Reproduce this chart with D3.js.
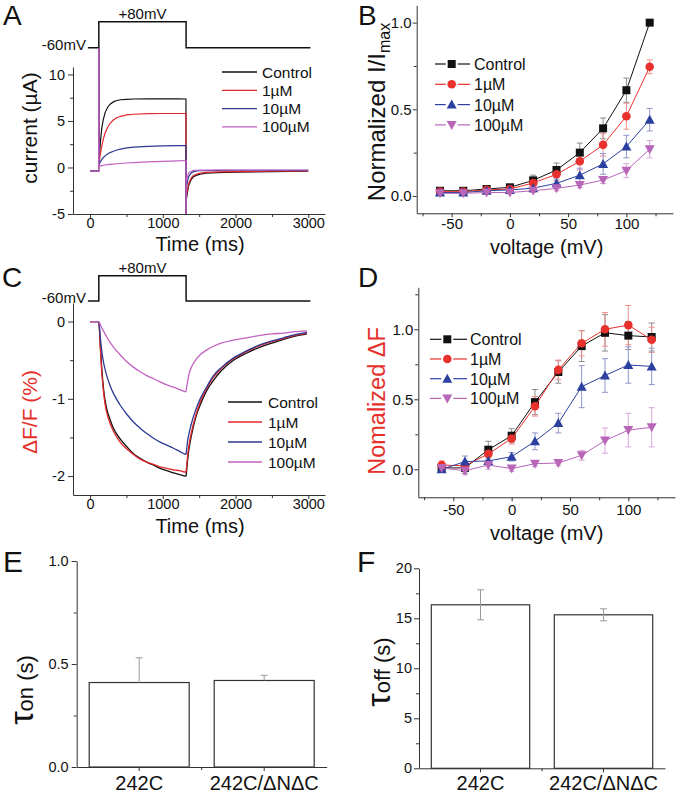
<!DOCTYPE html>
<html><head><meta charset="utf-8">
<script src="https://cdn.jsdelivr.net/npm/d3@7"></script>
<style>
body{margin:0;background:#fff;}
svg text{font-family:"Liberation Sans",Arial,Helvetica,sans-serif;}
</style></head><body>
<svg id="fig" width="677" height="794"></svg>
<script>
// ================= DATA =================
const seriesNames = ["Control", "1\u00B5M", "10\u00B5M", "100\u00B5M"];
const traceColors = ["#111111", "#e3262b", "#2c3a92", "#c261c2"];
const markerColors = ["#111111", "#e8312c", "#2c40a0", "#b866b8"];
const errColors = ["#8c8c8c", "#f0908c", "#8f97cc", "#d9a6d9"];
const labelRed = "#e5302b";

// Voltage protocol (ms, mV)
const protoT = [-30, 120, 120, 1320, 1320, 3030];
const protoV = [-60, -60, 80, 80, -60, -60];

// Panel A: gating currents (time ms, current µA)
const timeA = [0,118,120,122,140,160,180,206,240,275,320,367,420,505,600,800,1000,1200,1318,1320,1322,1353,1390,1422,1470,1514,1600,1750,2000,2500,3000];
const curControlA = [-0.4,-0.4,12.9,0.4,2.6,4.2,5.1,5.9,6.45,6.8,7.05,7.2,7.28,7.33,7.36,7.38,7.38,7.37,7.36,-5.6,-3.5,-2.0,-1.3,-1.0,-0.82,-0.72,-0.62,-0.55,-0.5,-0.45,-0.4];
const cur1uMA = [-0.4,-0.4,12.9,0.35,1.4,2.3,3.0,3.7,4.3,4.75,5.1,5.35,5.5,5.65,5.72,5.78,5.8,5.8,5.8,-5.6,-3.2,-1.8,-1.1,-0.85,-0.7,-0.6,-0.52,-0.47,-0.44,-0.4,-0.38];
const cur10uMA = [-0.4,-0.4,12.9,0.3,0.6,0.85,1.05,1.25,1.45,1.6,1.75,1.88,1.98,2.1,2.18,2.27,2.32,2.35,2.36,-5.6,-2.2,-1.0,-0.6,-0.45,-0.38,-0.35,-0.33,-0.32,-0.3,-0.3,-0.3];
const cur100uMA = [-0.4,-0.4,12.9,0.1,0.15,0.2,0.23,0.27,0.3,0.33,0.37,0.4,0.43,0.48,0.53,0.6,0.66,0.72,0.75,-5.6,-1.5,-0.6,-0.4,-0.32,-0.3,-0.28,-0.28,-0.27,-0.27,-0.27,-0.27];

// Panel C: fluorescence (time ms, dF/F %)
const timeC = [0,118,120,140,160,183,206,229,275,321,413,505,596,688,780,872,963,1055,1147,1230,1318,1322,1340,1360,1399,1450,1514,1600,1697,1800,1972,2150,2339,2500,2660,2820,2982];
const flControlC = [0,0,0,-0.3,-0.6,-0.85,-1.02,-1.13,-1.27,-1.38,-1.52,-1.62,-1.71,-1.77,-1.82,-1.86,-1.9,-1.93,-1.96,-1.98,-2.0,-1.98,-1.8,-1.65,-1.45,-1.25,-1.08,-0.9,-0.76,-0.64,-0.5,-0.41,-0.33,-0.28,-0.23,-0.19,-0.16];
const fl1uMC = [0,0,0,-0.33,-0.65,-0.9,-1.07,-1.18,-1.32,-1.42,-1.56,-1.65,-1.72,-1.78,-1.82,-1.85,-1.88,-1.9,-1.92,-1.93,-1.95,-1.92,-1.75,-1.6,-1.41,-1.22,-1.04,-0.87,-0.72,-0.61,-0.48,-0.39,-0.31,-0.26,-0.22,-0.18,-0.15];
const fl10uMC = [0,0,0,-0.2,-0.38,-0.52,-0.62,-0.7,-0.83,-0.93,-1.08,-1.2,-1.3,-1.38,-1.45,-1.51,-1.56,-1.6,-1.64,-1.68,-1.72,-1.7,-1.55,-1.45,-1.3,-1.15,-1.0,-0.85,-0.7,-0.6,-0.47,-0.38,-0.3,-0.25,-0.21,-0.17,-0.14];
const fl100uMC = [0,0,0,-0.04,-0.08,-0.12,-0.16,-0.2,-0.27,-0.33,-0.43,-0.52,-0.59,-0.65,-0.7,-0.74,-0.78,-0.82,-0.85,-0.88,-0.91,-0.88,-0.78,-0.68,-0.58,-0.5,-0.43,-0.37,-0.32,-0.28,-0.24,-0.21,-0.18,-0.16,-0.15,-0.13,-0.12];

// Panels B and D: voltage (mV)
const voltages = [-60,-40,-20,0,20,40,60,80,100,120];
// B: normalized I/Imax
const iControl = [0.03,0.03,0.04,0.05,0.09,0.15,0.25,0.39,0.61,1.0];
const iControlErr = [0.005,0.005,0.01,0.01,0.03,0.04,0.055,0.06,0.07,0];
const i1uM = [0.025,0.025,0.035,0.04,0.075,0.125,0.2,0.295,0.46,0.745];
const i1uMErr = [0.005,0.005,0.01,0.01,0.02,0.035,0.05,0.065,0.075,0.04];
const i10uM = [0.02,0.02,0.03,0.035,0.045,0.073,0.12,0.185,0.285,0.44];
const i10uMErr = [0.005,0.005,0.005,0.01,0.015,0.025,0.04,0.06,0.065,0.065];
const i100uM = [0.015,0.015,0.02,0.02,0.03,0.044,0.063,0.092,0.146,0.27];
const i100uMErr = [0.005,0.005,0.005,0.005,0.01,0.015,0.015,0.02,0.04,0.05];
// D: normalized dF
const fControl = [0.01,0.01,0.14,0.24,0.48,0.695,0.88,0.975,0.955,0.945];
const fControlErr = [0.02,0.04,0.06,0.05,0.09,0.08,0.11,0.13,0.1,0.1];
const f1uM = [0.03,0.025,0.11,0.22,0.45,0.71,0.9,1.0,1.03,0.925];
const f1uMErr = [0.03,0.03,0.05,0.04,0.07,0.07,0.09,0.12,0.14,0.09];
const f10uM = [0.0,0.055,0.06,0.09,0.2,0.33,0.59,0.67,0.745,0.735];
const f10uMErr = [0.02,0.04,0.03,0.03,0.06,0.07,0.15,0.12,0.13,0.13];
const f100uM = [0.01,-0.01,0.03,0.005,0.04,0.045,0.1,0.205,0.28,0.3];
const f100uMErr = [0.02,0.03,0.03,0.02,0.02,0.02,0.035,0.09,0.12,0.14];

// Panels E and F: bar charts
const constructs = ["242C", "242C/\u0394N\u0394C"];
const tauOn = [0.41, 0.42];
const tauOnErr = [0.12, 0.025];
const tauOff = [16.35, 15.35];
const tauOffErr = [1.5, 0.6];

// Tick values
const ticksTime = [0, 1000, 2000, 3000], minorTime = [500, 1500, 2500];
const ticksCurr = [-5, 0, 5, 10], minorCurr = [-2.5, 2.5, 7.5];
const ticksDF = [-2, -1, 0], minorDF = [-1.5, -0.5];
const ticksVolt = [-50, 0, 50, 100], minorVolt = [-75, -25, 25, 75, 125];
const ticksNorm = [0, 0.5, 1.0], minorNorm = [0.25, 0.75];
const ticksNormD = [0, 0.5, 1.0], minorNormD = [0.25, 0.75, 1.25];
const ticksOn = [0, 0.5, 1.0], minorOn = [0.25, 0.75];
const ticksOff = [0, 5, 10, 15, 20], minorOff = [2.5, 7.5, 12.5, 17.5];

// ================= DRAWING =================
const svg = d3.select("#fig");
const AX = "#333";
const fmtInt = d => String(d);
const fmt1 = d => d.toFixed(1);

function styleAxis(g, fs) {
  g.attr("font-family", null).attr("font-size", null);
  g.selectAll("path,line").attr("stroke", AX).attr("stroke-width", 1);
  g.selectAll("text").attr("fill", "#111").style("font-size", fs + "px");
}
function yAxis(x0, y, major, minor, fmt, fs, size, pad) {
  const g = svg.append("g").attr("transform", `translate(${x0},0)`);
  g.call(d3.axisLeft(y).tickValues(major).tickSize(size).tickSizeOuter(0).tickPadding(pad).tickFormat(fmt));
  const m = g.append("g").call(d3.axisLeft(y).tickValues(minor).tickSize(3).tickSizeOuter(0).tickFormat(""));
  m.select(".domain").remove();
  styleAxis(g, fs);
  return g;
}
function xAxis(y0, x, major, minor, fmt, fs, size, pad) {
  const g = svg.append("g").attr("transform", `translate(0,${y0})`);
  g.call(d3.axisBottom(x).tickValues(major).tickSize(size).tickSizeOuter(0).tickPadding(pad).tickFormat(fmt));
  const m = g.append("g").call(d3.axisBottom(x).tickValues(minor).tickSize(3).tickSizeOuter(0).tickFormat(""));
  m.select(".domain").remove();
  styleAxis(g, fs);
  return g;
}
function text(x, y, str, fs, opts = {}) {
  const t = svg.append("text").attr("x", x).attr("y", y).text(str)
    .style("font-size", fs + "px").attr("fill", opts.fill || "#111")
    .attr("text-anchor", opts.anchor || "start");
  return t;
}
function rotLabel(x, y, fs, fill) {
  return svg.append("text").attr("transform", `translate(${x},${y}) rotate(-90)`)
    .attr("text-anchor", "middle").style("font-size", fs + "px").attr("fill", fill || "#111");
}
function marker(g, shape, cx, cy, color) {
  if (shape === "square") {
    g.append("rect").attr("x", cx - 4).attr("y", cy - 4).attr("width", 8).attr("height", 8).attr("fill", color);
  } else if (shape === "circle") {
    g.append("circle").attr("cx", cx).attr("cy", cy).attr("r", 4.3).attr("fill", color);
  } else if (shape === "up") {
    g.append("path").attr("d", `M${cx},${cy - 5}L${cx + 5},${cy + 4}L${cx - 5},${cy + 4}Z`).attr("fill", color);
  } else {
    g.append("path").attr("d", `M${cx},${cy + 5}L${cx + 5},${cy - 4}L${cx - 5},${cy - 4}Z`).attr("fill", color);
  }
}
const shapes = ["square", "circle", "up", "down"];

// ---- protocol ----
function protocol(yMinus, yPlus, xScale) {
  const py = d3.scaleLinear([-60, 80], [yMinus, yPlus]);
  const pts = protoT.map((t, i) => [xScale(t), py(protoV[i])]);
  svg.append("path").attr("d", d3.line()(pts)).attr("fill", "none").attr("stroke", "#111").attr("stroke-width", 1.5);
  text(xScale((protoT[1] + protoT[3]) / 2), py(80) - 3, "+80mV", 15, { anchor: "middle" });
  text(xScale(protoT[0]) - 2, py(-60) + 2, "-60mV", 15, { anchor: "end" });
}

// ---- Panel A ----
{
  const x = d3.scaleLinear([-235, 3230], [73, 325]);
  const y = d3.scaleLinear([-5, 10.8], [214, 67]);
  protocol(47.7, 21.7, x);
  svg.append("clipPath").attr("id", "clipA").append("rect").attr("x", 73).attr("y", 47.7).attr("width", 252).attr("height", 166.3);
  const line = d3.line().x((d, i) => x(timeA[i])).y(d => y(d));
  const series = [curControlA, cur1uMA, cur10uMA, cur100uMA];
  const g = svg.append("g").attr("clip-path", "url(#clipA)");
  series.forEach((s, k) => g.append("path").attr("d", line(s)).attr("fill", "none")
    .attr("stroke", traceColors[k]).attr("stroke-width", 1.2));
  yAxis(73, y, ticksCurr, minorCurr, fmtInt, 14.5, 5, 3);
  xAxis(214, x, ticksTime, minorTime, fmtInt, 14.5, 4, 0);
  text(200, 251, "Time (ms)", 20, { anchor: "middle" });
  rotLabel(37, 128, 21).text("current (\u00B5A)");
  seriesNames.forEach((n, k) => {
    const yy = 72 + k * 18.3;
    svg.append("line").attr("x1", 222).attr("x2", 257).attr("y1", yy).attr("y2", yy).attr("stroke", traceColors[k]).attr("stroke-width", 1.3);
    text(262, yy + 5.5, n, 15.5);
  });
  text(3, 25, "A", 28);
}

// ---- Panel C ----
{
  const x = d3.scaleLinear([-235, 3230], [73, 325]);
  const y = d3.scaleLinear([-2.245, 0.24], [495, 303]);
  protocol(301, 275.7, x);
  const line = d3.line().x((d, i) => x(timeC[i])).y(d => y(d)).curve(d3.curveMonotoneX);
  const series = [flControlC, fl1uMC, fl10uMC, fl100uMC];
  series.forEach((s, k) => svg.append("path").attr("d", line(s)).attr("fill", "none")
    .attr("stroke", traceColors[k]).attr("stroke-width", 1.3));
  yAxis(73, y, ticksDF, minorDF, fmtInt, 14.5, 5, 3);
  xAxis(495, x, ticksTime, minorTime, fmtInt, 14.5, 4, 0);
  text(200, 533, "Time (ms)", 20, { anchor: "middle" });
  rotLabel(37, 412, 21, labelRed).text("\u0394F/F (%)");
  seriesNames.forEach((n, k) => {
    const yy = 402 + k * 20;
    svg.append("line").attr("x1", 228).attr("x2", 262).attr("y1", yy).attr("y2", yy).attr("stroke", traceColors[k]).attr("stroke-width", 1.5);
    text(268, yy + 5.5, n, 15.5);
  });
  text(2, 287, "C", 28);
}

// ---- Panels B & D (line + symbol) ----
function ivPanel(x, y, vals, errs) {
  const g = svg.append("g");
  vals.forEach((s, k) => {
    s.forEach((v, i) => {
      const e = errs[k][i];
      if (e <= 0) return;
      const cx = x(voltages[i]);
      g.append("line").attr("x1", cx).attr("x2", cx).attr("y1", y(v - e)).attr("y2", y(v + e)).attr("stroke", errColors[k]).attr("stroke-width", 1);
      [v - e, v + e].forEach(w => g.append("line").attr("x1", cx - 3).attr("x2", cx + 3).attr("y1", y(w)).attr("y2", y(w)).attr("stroke", errColors[k]).attr("stroke-width", 1));
    });
  });
  vals.forEach((s, k) => {
    const line = d3.line().x((d, i) => x(voltages[i])).y(d => y(d));
    g.append("path").attr("d", line(s)).attr("fill", "none").attr("stroke", markerColors[k]).attr("stroke-width", 1);
    s.forEach((v, i) => marker(g, shapes[k], x(voltages[i]), y(v), markerColors[k]));
  });
}
function ivLegend(x0, x1, xm, y0, dy, xt) {
  const g = svg.append("g");
  seriesNames.forEach((n, k) => {
    const yy = y0 + k * dy;
    g.append("line").attr("x1", x0).attr("x2", xm - 6).attr("y1", yy).attr("y2", yy).attr("stroke", markerColors[k]).attr("stroke-width", 1.2);
    g.append("line").attr("x1", xm + 6).attr("x2", x1).attr("y1", yy).attr("y2", yy).attr("stroke", markerColors[k]).attr("stroke-width", 1.2);
    marker(g, shapes[k], xm, yy, markerColors[k]);
    text(xt, yy + 6, n, 16);
  });
}
{
  const x = d3.scaleLinear([-80, 140], [416.7, 673]);
  const y = d3.scaleLinear([-0.1, 1.1], [213.3, 5.3]);
  ivPanel(x, y, [iControl, i1uM, i10uM, i100uM], [iControlErr, i1uMErr, i10uMErr, i100uMErr]);
  yAxis(416.7, y, ticksNorm, minorNorm, fmt1, 15, 4, 1);
  xAxis(213.3, x, ticksVolt, minorVolt, fmtInt, 15, 4, 1);
  text(546.7, 254, "voltage (mV)", 20, { anchor: "middle" });
  const t = rotLabel(385, 112, 24);
  t.append("tspan").text("Normalized I/I");
  t.append("tspan").attr("dy", 5).style("font-size", "16px").text("max");
  ivLegend(435, 470, 451.7, 64, 20.3, 474);
  text(358, 25, "B", 28);
}
{
  const x = d3.scaleLinear([-80, 140], [418.3, 675]);
  const y = d3.scaleLinear([-0.2, 1.3], [497.3, 287.3]);
  ivPanel(x, y, [fControl, f1uM, f10uM, f100uM], [fControlErr, f1uMErr, f10uMErr, f100uMErr]);
  yAxis(418.3, y, ticksNormD, minorNormD, fmt1, 15, 4, 1);
  xAxis(497.3, x, ticksVolt, minorVolt, fmtInt, 15, 4, 3);
  text(546.7, 540, "voltage (mV)", 20, { anchor: "middle" });
  rotLabel(385, 401, 23.5, labelRed).text("Nomalized \u0394F");
  ivLegend(430, 467, 447.3, 339.3, 19.7, 470);
  text(358, 287, "D", 28);
}

// ---- Panels E & F (bars) ----
function barPanel(x0, x1, yScale, vals, errs, bothDir, pad) {
  const x = d3.scaleBand(constructs, [x0, x1]).paddingInner(0.2).paddingOuter(0.1);
  const g = svg.append("g");
  vals.forEach((v, i) => {
    g.append("rect").attr("x", x(constructs[i])).attr("y", yScale(v)).attr("width", x.bandwidth())
      .attr("height", yScale(0) - yScale(v)).attr("fill", "#fff").attr("stroke", "#333").attr("stroke-width", 1.2);
  });
  vals.forEach((v, i) => {
    const cx = x(constructs[i]) + x.bandwidth() / 2, e = errs[i];
    const lo = bothDir ? v - e : v;
    g.append("line").attr("x1", cx).attr("x2", cx).attr("y1", yScale(lo)).attr("y2", yScale(v + e)).attr("stroke", "#999").attr("stroke-width", 1);
    const caps = bothDir ? [v - e, v + e] : [v + e];
    caps.forEach(w => g.append("line").attr("x1", cx - 3.5).attr("x2", cx + 3.5).attr("y1", yScale(w)).attr("y2", yScale(w)).attr("stroke", "#999").attr("stroke-width", 1));
  });
  const gx = svg.append("g").attr("transform", `translate(0,${yScale(0)})`);
  gx.call(d3.axisBottom(x).tickSize(4).tickSizeOuter(0).tickPadding(pad));
  gx.append("line").attr("x1", (x0 + x1) / 2).attr("x2", (x0 + x1) / 2).attr("y1", 0).attr("y2", 3);
  styleAxis(gx, 20);
  return x;
}
{
  const y = d3.scaleLinear([0, 1.0], [767, 561]);
  barPanel(76.7, 326.7, y, tauOn, tauOnErr, false, 4.5);
  yAxis(76.7, y, ticksOn, minorOn, fmt1, 14.5, 5, 3);
  const t = rotLabel(33, 690, 22);
  t.append("tspan").style("font-size", "34px").text("\u03C4");
  t.append("tspan").text("on (s)");
  text(3, 572, "E", 30);
}
{
  const y = d3.scaleLinear([0, 20], [768.3, 568.3]);
  barPanel(419, 665, y, tauOff, tauOffErr, true, 3.2);
  yAxis(419, y, ticksOff, minorOff, fmtInt, 14.5, 5, 2);
  const t = rotLabel(390, 672, 22);
  t.append("tspan").style("font-size", "34px").text("\u03C4");
  t.append("tspan").text("off (s)");
  text(357, 572, "F", 30);
}
</script>
</body></html>
